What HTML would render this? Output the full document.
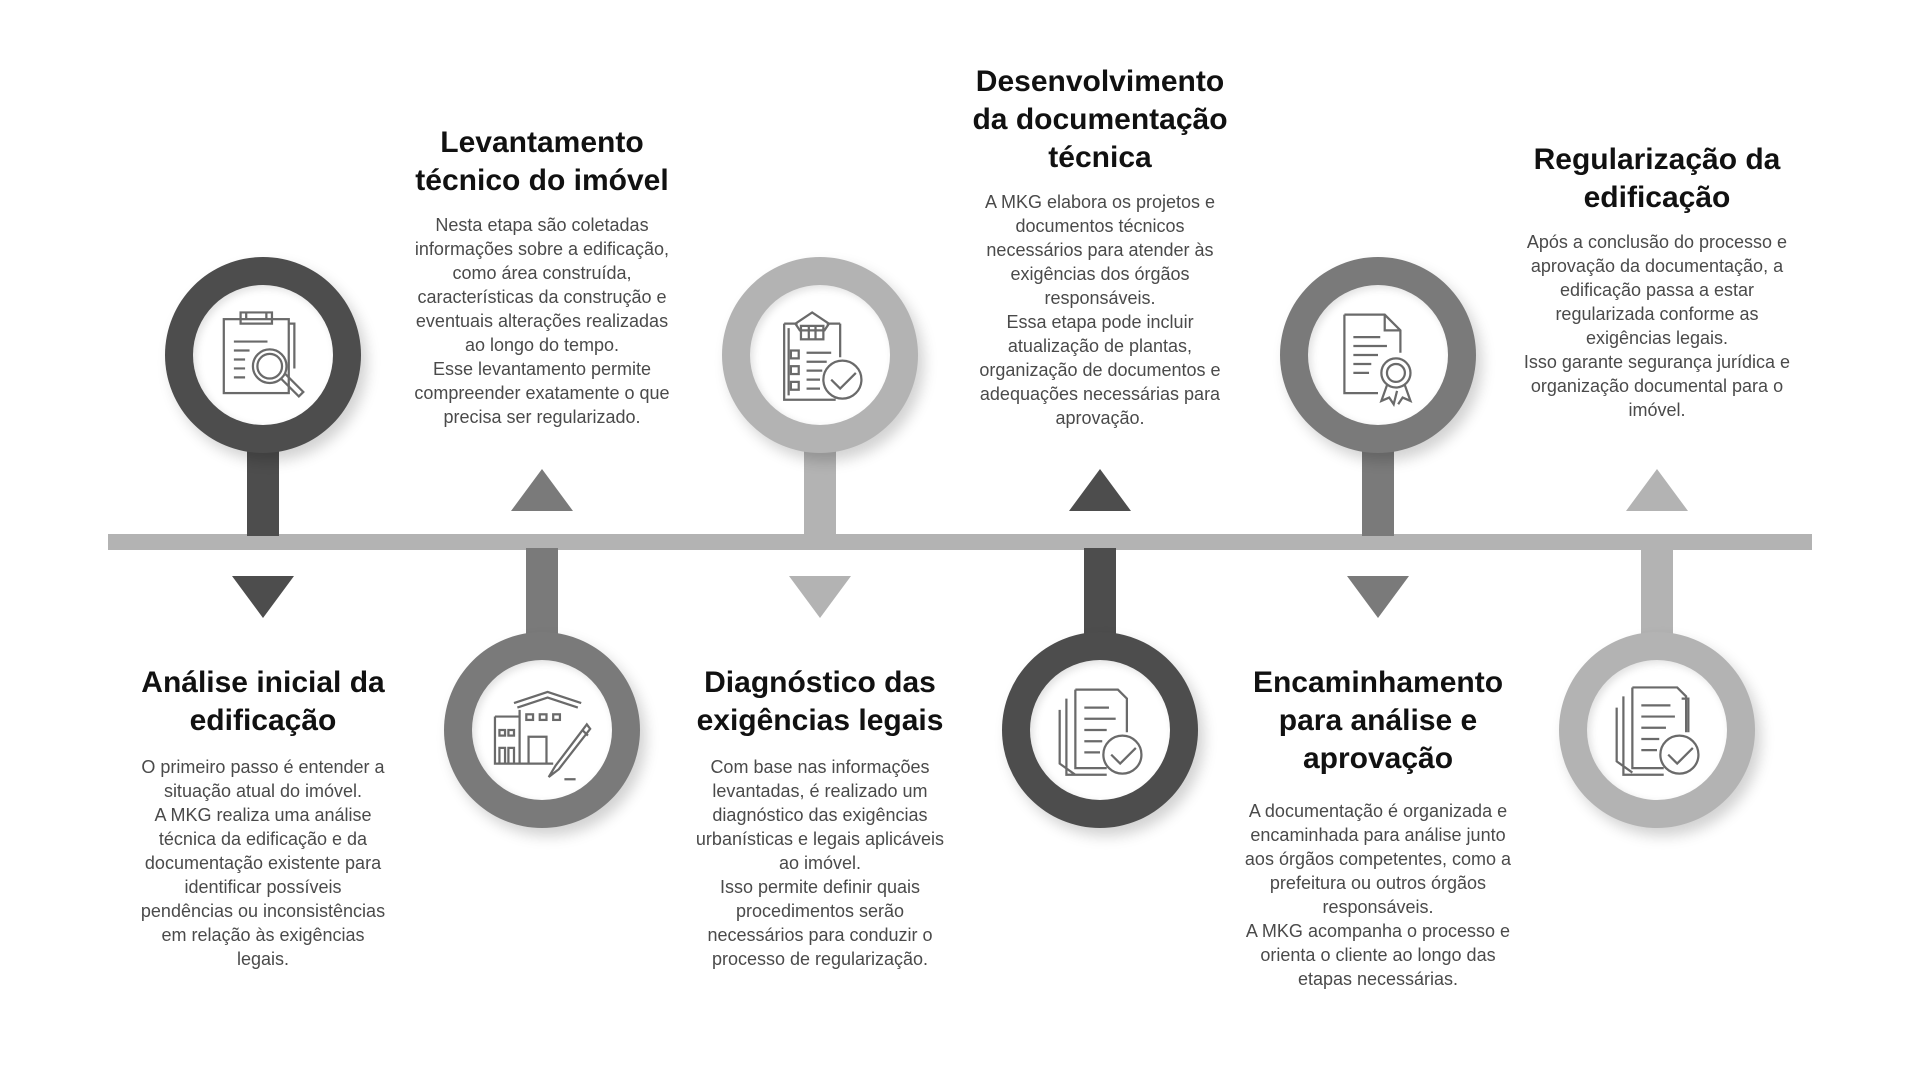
<!DOCTYPE html>
<html><head><meta charset="utf-8">
<style>
html,body{margin:0;padding:0;background:#fff;width:1920px;height:1080px;overflow:hidden;position:relative;font-family:"Liberation Sans",sans-serif}
.bar{position:absolute;left:108px;top:534px;width:1704px;height:16px;background:#b3b3b3}
.stem{position:absolute;width:32px;margin-left:-16px}
.circ{position:absolute;width:196px;height:196px;margin-left:-98px;margin-top:-98px;border-radius:50%;box-shadow:6px 8px 14px rgba(0,0,0,.18)}
.inner{position:absolute;left:28px;top:28px;width:140px;height:140px;border-radius:50%;background:#fff;box-shadow:inset 3px 3px 8px rgba(0,0,0,.12)}
.inner svg{position:absolute;left:14px;top:14px;width:112px;height:112px}
.tri{position:absolute;width:0;height:0;margin-left:-31px;border-left:31px solid transparent;border-right:31px solid transparent}
.dn{border-top:42px solid}
.up{border-bottom:42px solid}
.txt{position:absolute;width:320px;margin-left:-160px;text-align:center}
.t{font-weight:bold;font-size:30px;line-height:38px;color:#111}
.b{font-size:18px;line-height:24px;color:#4a4a4a}
</style></head><body>
<div class="bar"></div>

<div class="stem" style="left:263px;top:420px;height:116px;background:#4d4d4d"></div>
<div class="stem" style="left:542px;top:548px;height:120px;background:#7a7a7a"></div>
<div class="stem" style="left:820px;top:420px;height:116px;background:#b3b3b3"></div>
<div class="stem" style="left:1100px;top:548px;height:120px;background:#4d4d4d"></div>
<div class="stem" style="left:1378px;top:420px;height:116px;background:#7a7a7a"></div>
<div class="stem" style="left:1657px;top:548px;height:120px;background:#b3b3b3"></div>

<div class="tri dn" style="left:263px;top:576px;border-top-color:#4d4d4d"></div>
<div class="tri up" style="left:542px;top:469px;border-bottom-color:#7a7a7a"></div>
<div class="tri dn" style="left:820px;top:576px;border-top-color:#b3b3b3"></div>
<div class="tri up" style="left:1100px;top:469px;border-bottom-color:#4d4d4d"></div>
<div class="tri dn" style="left:1378px;top:576px;border-top-color:#7a7a7a"></div>
<div class="tri up" style="left:1657px;top:469px;border-bottom-color:#b3b3b3"></div>

<div class="circ" style="left:263px;top:355px;background:#4d4d4d"><div class="inner">
<svg viewBox="0 0 100 100" fill="none" stroke="#6a6a6a" stroke-width="2"><rect x="15" y="18" width="58" height="66"/><path d="M35 18v-6h18v6M30 12h28v10H30z"/><path d="M24 38h30M24 46h14M24 54h10M24 62h10M24 70h10M73 22h5v40"/><circle cx="56" cy="60" r="15"/><circle cx="56" cy="60" r="11"/><path d="M66 71l16 16 4-4-16-16"/></svg></div></div>
<div class="circ" style="left:542px;top:730px;background:#7a7a7a"><div class="inner">
<svg viewBox="0 0 100 100" fill="none" stroke="#6a6a6a" stroke-width="2"><path d="M25 26l30-10 30 10M28 30l27-9 27 9"/><path d="M30 32v48M8 38h22M8 38v42h52"/><rect x="36" y="36" width="6" height="5"/><rect x="48" y="36" width="6" height="5"/><rect x="60" y="36" width="6" height="5"/><rect x="12" y="50" width="5" height="5"/><rect x="20" y="50" width="5" height="5"/><path d="M12 80v-14h5v14M20 80v-14h5v14M38 80V56h16v24"/><path d="M90 45L62 82l-6 10 9-7 28-36z"/><path d="M86 50l5 5M70 94h10"/></svg></div></div>
<div class="circ" style="left:820px;top:355px;background:#b3b3b3"><div class="inner">
<svg viewBox="0 0 100 100" fill="none" stroke="#6a6a6a" stroke-width="2"><path d="M18 22h12M56 22h12M18 22v68h46M68 22v30M22 26v60"/><path d="M28 22l15-10 15 10-4 6H32z"/><rect x="33" y="24" width="20" height="12"/><path d="M40 24v12M46 24v12"/><rect x="24" y="46" width="7" height="7"/><rect x="24" y="60" width="7" height="7"/><rect x="24" y="74" width="7" height="7"/><path d="M38 48h22M38 56h18M38 64h14M38 72h12M38 80h12"/><circle cx="70" cy="72" r="17"/><path d="M60 72l8 8 14-14"/></svg></div></div>
<div class="circ" style="left:1100px;top:730px;background:#4d4d4d"><div class="inner">
<svg viewBox="0 0 100 100" fill="none" stroke="#6a6a6a" stroke-width="2"><path d="M28 14h38l8 8v30M28 14v70h28"/><path d="M20 22v68h36M14 32v48l14 10"/><path d="M36 30h22M36 40h28M36 50h20M36 60h16M36 70h14"/><circle cx="70" cy="72" r="17"/><path d="M60 72l8 8 14-14"/></svg></div></div>
<div class="circ" style="left:1378px;top:355px;background:#7a7a7a"><div class="inner">
<svg viewBox="0 0 100 100" fill="none" stroke="#6a6a6a" stroke-width="2"><path d="M20 14h36l14 14v20M20 14v70h30M56 14v14h14"/><path d="M28 34h24M28 42h30M28 50h22M28 58h16M28 66h14"/><circle cx="66" cy="66" r="13"/><circle cx="66" cy="66" r="8"/><path d="M58 77l-5 14 7-3 4 6 3-12M74 77l5 14-7-3-4 6"/></svg></div></div>
<div class="circ" style="left:1657px;top:730px;background:#b3b3b3"><div class="inner">
<svg viewBox="0 0 100 100" fill="none" stroke="#6a6a6a" stroke-width="2"><path d="M28 12h40l8 8v32M28 12v72h28"/><path d="M20 20v70h36M14 30v48l14 10"/><path d="M36 28h26M36 38h30M36 48h22M36 58h16M36 68h14M72 22h6v30"/><circle cx="70" cy="72" r="17"/><path d="M60 72l8 8 14-14"/></svg></div></div>

<div class="txt" style="left:263px;top:664px"><div class="t">Análise inicial da<br>edificação</div></div>
<div class="txt b" style="left:263px;top:755px">O primeiro passo é entender a<br>situação atual do imóvel.<br>A MKG realiza uma análise<br>técnica da edificação e da<br>documentação existente para<br>identificar possíveis<br>pendências ou inconsistências<br>em relação às exigências<br>legais.</div>

<div class="txt" style="left:542px;top:124px"><div class="t">Levantamento<br>técnico do imóvel</div></div>
<div class="txt b" style="left:542px;top:213px">Nesta etapa são coletadas<br>informações sobre a edificação,<br>como área construída,<br>características da construção e<br>eventuais alterações realizadas<br>ao longo do tempo.<br>Esse levantamento permite<br>compreender exatamente o que<br>precisa ser regularizado.</div>

<div class="txt" style="left:820px;top:664px"><div class="t">Diagnóstico das<br>exigências legais</div></div>
<div class="txt b" style="left:820px;top:755px">Com base nas informações<br>levantadas, é realizado um<br>diagnóstico das exigências<br>urbanísticas e legais aplicáveis<br>ao imóvel.<br>Isso permite definir quais<br>procedimentos serão<br>necessários para conduzir o<br>processo de regularização.</div>

<div class="txt" style="left:1100px;top:63px"><div class="t">Desenvolvimento<br>da documentação<br>técnica</div></div>
<div class="txt b" style="left:1100px;top:190px">A MKG elabora os projetos e<br>documentos técnicos<br>necessários para atender às<br>exigências dos órgãos<br>responsáveis.<br>Essa etapa pode incluir<br>atualização de plantas,<br>organização de documentos e<br>adequações necessárias para<br>aprovação.</div>

<div class="txt" style="left:1378px;top:664px"><div class="t">Encaminhamento<br>para análise e<br>aprovação</div></div>
<div class="txt b" style="left:1378px;top:799px">A documentação é organizada e<br>encaminhada para análise junto<br>aos órgãos competentes, como a<br>prefeitura ou outros órgãos<br>responsáveis.<br>A MKG acompanha o processo e<br>orienta o cliente ao longo das<br>etapas necessárias.</div>

<div class="txt" style="left:1657px;top:141px"><div class="t">Regularização da<br>edificação</div></div>
<div class="txt b" style="left:1657px;top:230px">Após a conclusão do processo e<br>aprovação da documentação, a<br>edificação passa a estar<br>regularizada conforme as<br>exigências legais.<br>Isso garante segurança jurídica e<br>organização documental para o<br>imóvel.</div>
</body></html>
